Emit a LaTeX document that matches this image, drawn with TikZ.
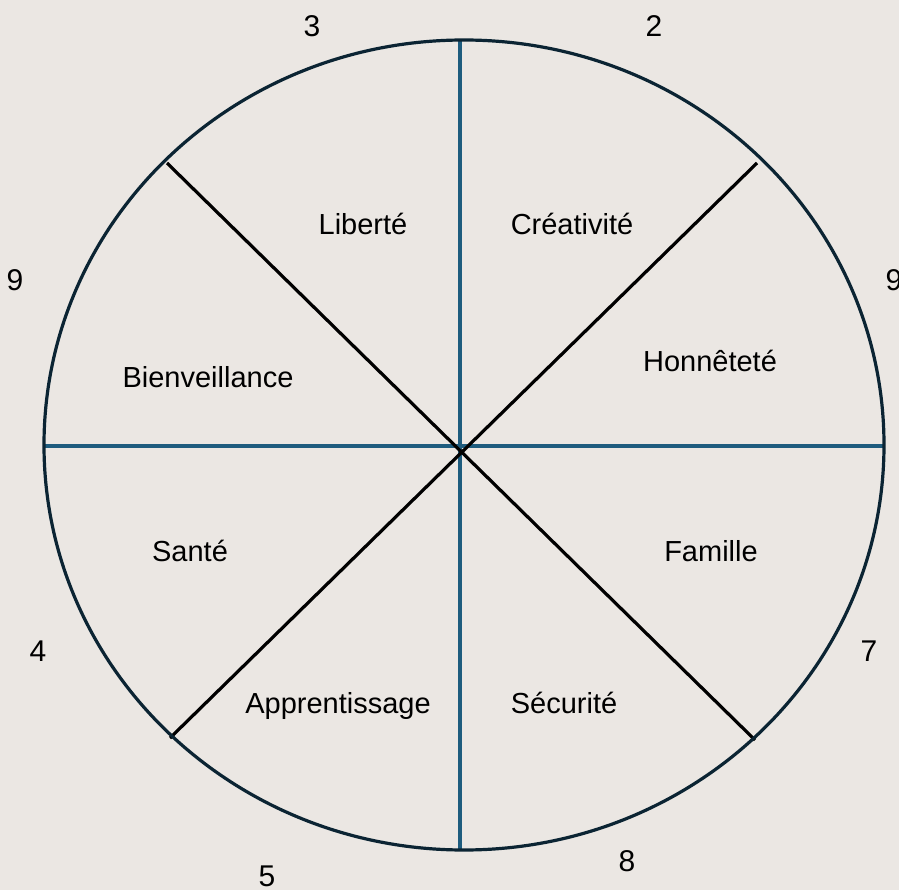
\documentclass[tikz,border=0pt]{standalone}
\usepackage{fontspec}
\setmainfont{Liberation Sans}
\definecolor{bgc}{HTML}{EBE7E3}
\definecolor{rimc}{HTML}{0B2433}
\definecolor{axisc}{HTML}{1E5C7E}
\begin{document}
\begin{tikzpicture}[x=1pt,y=-1pt,
  lbl/.style={anchor=base,inner sep=0pt,font=\fontsize{29}{34}\selectfont},
  num/.style={anchor=base,inner sep=0pt,font=\fontsize{30}{36}\selectfont},
  rim/.style={draw=rimc,line width=3.2pt},
  axis/.style={draw=axisc,line width=3.2pt},
  diag/.style={draw=black,line width=3.2pt}]
\fill[bgc] (0,0) rectangle (899,890);
\useasboundingbox (0,0) rectangle (899,890);
% coordinates
\coordinate (top) at (460,40);
\coordinate (bot) at (460,850);
\coordinate (lft) at (44,446);
\coordinate (rgt) at (885,446);
\coordinate (tl) at (167,163);
\coordinate (br) at (755,740);
\coordinate (bl) at (170,738);
\coordinate (tr) at (757,163);
\draw[axis] (top) -- (bot);
\draw[axis] (lft) -- (rgt);
\draw[diag] (tl) -- (br);
\draw[diag] (bl) -- (tr);
\draw[rim] (464,445) ellipse [x radius=420, y radius=405];
% segment labels
\node[lbl] (liberte) at (363,235) {Liberté};
\node[lbl] (creativite) at (572,235) {Créativité};
\node[lbl] (bienv) at (208,387) {Bienveillance};
\node[lbl] (honn) at (710,371) {Honnêteté};
\node[lbl] (sante) at (190,561) {Santé};
\node[lbl] (famille) at (711,561) {Famille};
\node[lbl] (appr) at (338,713) {Apprentissage};
\node[lbl] (secu) at (564,713) {Sécurité};
% numbers
\node[num] (n3) at (312,37) {3};
\node[num] (n2) at (654,37) {2};
\node[num] (n9l) at (15,291) {9};
\node[num] (n9r) at (894,291) {9};
\node[num] (n4) at (38,661) {4};
\node[num] (n7) at (869,661) {7};
\node[num] (n5) at (267,886) {5};
\node[num] (n8) at (627,871) {8};
\end{tikzpicture}
\end{document}
